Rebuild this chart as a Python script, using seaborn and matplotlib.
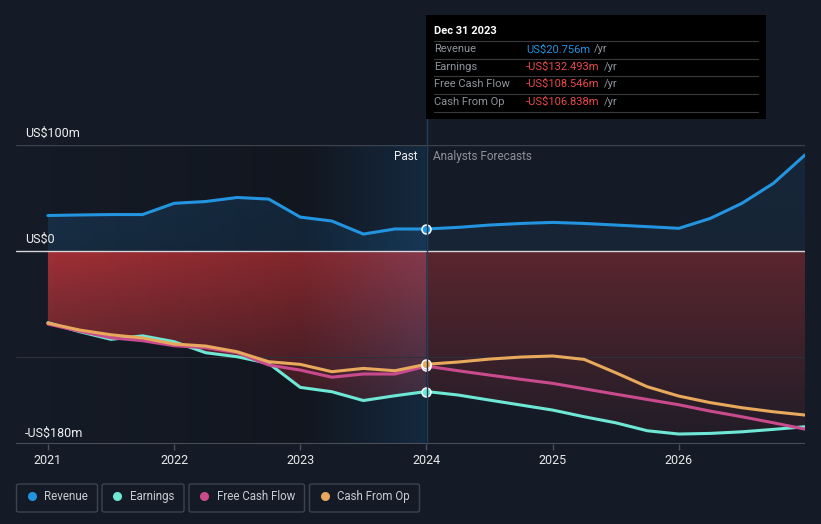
import numpy as np
import pandas as pd
import matplotlib
matplotlib.use('Agg')
import matplotlib.pyplot as plt
import seaborn as sns
from matplotlib.patches import Rectangle, FancyBboxPatch
from matplotlib.lines import Line2D

# ---- data (US$ m) ----
years = [2021.0, 2021.25, 2021.5, 2021.75, 2022.0, 2022.25, 2022.5, 2022.75,
         2023.0, 2023.25, 2023.5, 2023.75, 2024.0, 2024.25, 2024.5, 2024.75,
         2025.0, 2025.25, 2025.5, 2025.75, 2026.0, 2026.25, 2026.5, 2026.75, 2027.0]
revenue = [33.5, 34.0, 34.4, 34.4, 45.0, 46.7, 50.5, 49.0, 32.0, 28.3, 16.0, 20.8,
           20.8, 22.3, 24.5, 26.0, 27.0, 26.0, 24.5, 23.0, 21.4, 30.8, 45.0, 63.9, 90.6]
earnings = [-67.6, -76.0, -83.3, -80.0, -85.5, -95.9, -99.7, -106.0, -128.6, -132.7,
            -141.0, -136.5, -132.5, -135.8, -140.6, -145.3, -150.0, -156.3, -162.0,
            -169.5, -172.6, -172.0, -170.5, -168.2, -165.7]
free_cash_flow = [-68.9, -75.5, -81.8, -84.6, -89.3, -91.2, -95.9, -107.5, -112.3, -119.0,
                  -116.0, -116.0, -108.5, -112.9, -117.0, -121.0, -124.8, -129.9, -135.0,
                  -140.0, -145.0, -151.0, -156.3, -162.0, -168.0]
cash_from_op = [-68.0, -74.5, -79.0, -82.0, -87.7, -89.6, -95.0, -104.4, -106.9, -113.8,
                -110.7, -112.9, -106.8, -104.7, -101.9, -100.0, -99.0, -102.2, -114.8,
                -128.0, -136.8, -143.0, -147.8, -151.6, -154.7]

series_names = ['Revenue', 'Earnings', 'Free Cash Flow', 'Cash From Op']
series_colors = ['#2394df', '#6ee8d5', '#c94b8e', '#e8a95c']
tick_years = [2021, 2022, 2023, 2024, 2025, 2026]
y_labels = {100: 'US$100m', 0: 'US$0', -180: '-US$180m'}
tooltip_date = 'Dec 31 2023'
tooltip_values = ['US$20.756m', '-US$132.493m', '-US$108.546m', '-US$106.838m']
tooltip_colors = ['#2394df', '#e84a4a', '#e84a4a', '#e84a4a']
today = 2024.0

# ---- style ----
BG = '#151b26'
sns.set_theme(style='dark', rc={'figure.facecolor': BG, 'axes.facecolor': BG})
plt.rcParams['font.family'] = ['Roboto', 'DejaVu Sans']
plt.rcParams['text.parse_math'] = False

W, H = 821, 524
fig = plt.figure(figsize=(W / 100, H / 100), dpi=100)


def fx(px):
    return px / W


def fy(py):
    return 1 - py / H


X0, X1 = 2020.747, 2027.0
Y0, Y1 = -182, 100
ax = fig.add_axes([fx(16), fy(444), fx(805) - fx(16), fy(145) - fy(444)])
ax.set_facecolor(BG)

df = pd.DataFrame({'year': years, 'Revenue': revenue, 'Earnings': earnings,
                   'Free Cash Flow': free_cash_flow, 'Cash From Op': cash_from_op})
long_df = df.melt(id_vars='year', var_name='series', value_name='value')


def gradient_image(rgb, alpha, extent, zorder, clip=None):
    img = np.zeros(alpha.shape + (4,))
    img[..., :3] = rgb
    img[..., 3] = alpha
    im = ax.imshow(img, extent=extent, origin='upper', aspect='auto',
                   zorder=zorder, interpolation='bilinear')
    if clip is not None:
        im.set_clip_path(clip, transform=ax.transData)
    return im


gx = np.linspace(X0, X1, 700)
past = gx <= today

# revenue area (blue)
rev_poly = ax.fill_between(df['year'], 0, df['Revenue'], facecolor='none', edgecolor='none')
d = np.linspace(0, 1, 150)[:, None]
a_blue = (0.45 - 0.12 * d) * np.where(past, 1.0, 0.55)[None, :]
gradient_image(matplotlib.colors.to_rgb('#1d4f7a'), a_blue, [X0, X1, 0, Y1], 1,
               rev_poly.get_paths()[0])

# loss area (red) down to earnings
red_poly = ax.fill_between(df['year'], 0, df['Earnings'], facecolor='none', edgecolor='none')
d = np.linspace(0, 1, 200)[:, None]
a_red = (0.82 - 0.7 * d) * np.where(past, 1.0, 0.5)[None, :]
gradient_image(matplotlib.colors.to_rgb('#c0353a'), a_red, [X0, X1, Y0, 0], 1,
               red_poly.get_paths()[0])

# past shading: darken to 2023, then blue band up to today
ov = np.zeros((2, gx.size, 4))
blue = np.array(matplotlib.colors.to_rgb('#1565a8'))
dark = (gx >= 2021) & (gx < 2023)
band = (gx >= 2023) & (gx <= today)
ov[:, dark, 3] = 0.18 * (gx[dark] - 2021) / 2
t = gx[band] - 2023
ov[:, band, :3] = (t[:, None] * blue[None, :])
ov[:, band, 3] = 0.18 + 0.02 * t
ax.imshow(ov, extent=[X0, X1, Y0, Y1], origin='upper', aspect='auto', zorder=1.5,
          interpolation='bilinear')

# grid lines
ax.axhline(100, color='#3d434d', lw=1, zorder=2)
ax.axhline(-100, color='#2c313b', lw=0.8, zorder=1.7)
ax.axhline(0, color='#d5d5d8', lw=1, zorder=2)
ax.axhline(Y0, color='#4a505a', lw=1.5, zorder=2)

# lines
sns.lineplot(data=long_df, x='year', y='value', hue='series', hue_order=series_names,
             palette=dict(zip(series_names, series_colors)), linewidth=2.2,
             legend=False, ax=ax, zorder=3)
ti = years.index(today)
for name, color in zip(series_names, series_colors):
    ax.scatter([today], [df[name].iloc[ti]], s=42, color=color, edgecolors='white',
               linewidths=1.1, zorder=5)

ax.set_xlim(X0, X1)
ax.set_ylim(Y0, Y1)
ax.set_xticks(tick_years)
ax.set_xticklabels([str(y) for y in tick_years], color='#e8e8ea', fontsize=9)
ax.tick_params(axis='x', length=4, width=1, color='#4a505a', pad=3, bottom=True)
ax.set_yticks([])
ax.set_xlabel('')
ax.set_ylabel('')
for s in ax.spines.values():
    s.set_visible(False)

# y labels
label_x = 2021 - 23 / 126.33
for val, txt in y_labels.items():
    base = val + 7.5 if val != -180 else Y0 + 6.5
    ax.text(label_x, base, txt, color='#f0f0f2', fontsize=9, va='baseline', ha='left', zorder=6)

ax.text(today - 0.07, 85.8, 'Past', color='#f0f0f2', fontsize=8.5, ha='right', va='baseline')
ax.text(today + 0.055, 85.8, 'Analysts Forecasts', color='#8c9199', fontsize=8.5,
        ha='left', va='baseline')

# today marker line extending into tooltip
fig.add_artist(Line2D([fx(427), fx(427)], [fy(444), fy(15)], color='#21405e', lw=1, zorder=0.5))

# tooltip
fig.add_artist(Rectangle((fx(426), fy(119)), fx(766) - fx(426), fy(15) - fy(119),
                         facecolor='#000000', edgecolor='none', zorder=7))
fig.text(fx(434), fy(31), tooltip_date, color='white', fontsize=8, fontweight='bold',
         va='center', ha='left', zorder=8)
for sep in [41, 58.5, 76, 93.5, 111.5]:
    fig.add_artist(Line2D([fx(434), fx(758)], [fy(sep), fy(sep)], color='#3a3a3c', lw=0.8, zorder=8))
renderer = fig.canvas.get_renderer()
for i, (name, val, col) in enumerate(zip(series_names, tooltip_values, tooltip_colors)):
    ry = fy(49.5 + i * 17.4)
    fig.text(fx(434), ry, name, color='#8f949c', fontsize=8, va='center', ha='left', zorder=8)
    t_val = fig.text(fx(526), ry, val, color=col, fontsize=8, va='center', ha='left', zorder=8)
    bb = t_val.get_window_extent(renderer)
    fig.text(bb.x1 / W + fx(4), ry, '/yr', color='#8f949c', fontsize=8, va='center',
             ha='left', zorder=8)

# legend boxes
boxes = [(16.5, 97.5), (102, 184), (189, 304.5), (309.5, 419.5)]
for (bx0, bx1), name, color in zip(boxes, series_names, series_colors):
    fig.add_artist(FancyBboxPatch((fx(bx0), fy(512)), fx(bx1) - fx(bx0), fy(484) - fy(512),
                                  boxstyle='round,pad=0,rounding_size=0.003',
                                  facecolor='none', edgecolor='#3e444e', lw=1))
    fig.add_artist(Line2D([fx(bx0 + 15)], [fy(496)], marker='o', markersize=6.5,
                          color=color, markeredgewidth=0))
    fig.text(fx(bx0 + 27.5), fy(496.5), name, color='#c9ccd2', fontsize=8.3,
             va='center', ha='left')

fig.savefig('out.png', dpi=100, facecolor=BG)
